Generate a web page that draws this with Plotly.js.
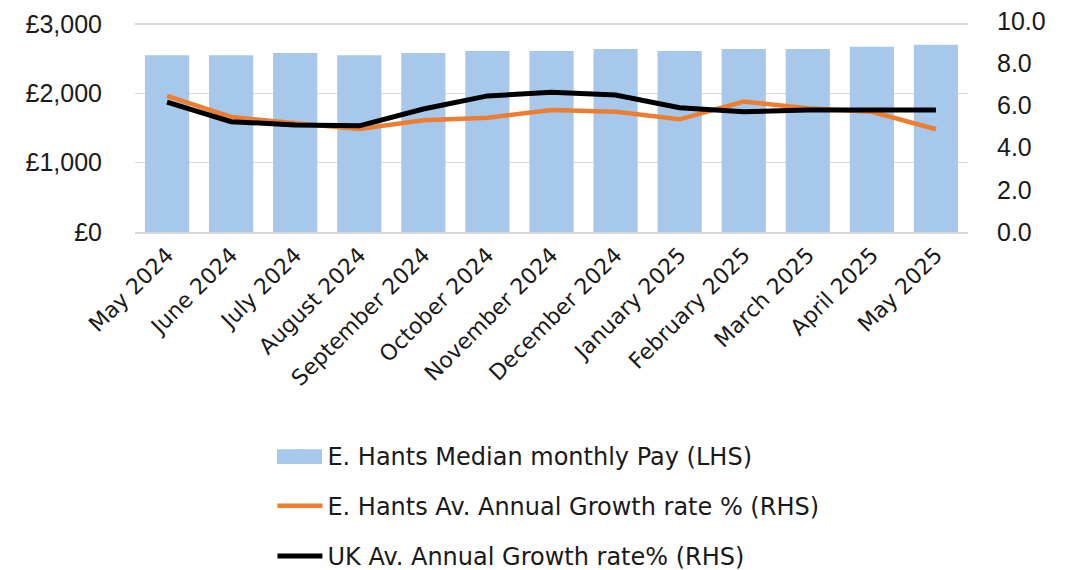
<!DOCTYPE html>
<html>
<head>
<meta charset="utf-8">
<script src="https://cdn.plot.ly/plotly-3.0.1.min.js"></script>
<style>
html,body{margin:0;padding:0;background:#fff;}
#chart{width:1073px;height:570px;}
</style>
</head>
<body>
<div id="chart"></div>
<script>
var months = ["May 2024","June 2024","July 2024","August 2024","September 2024","October 2024","November 2024","December 2024","January 2025","February 2025","March 2025","April 2025","May 2025"];
var medianPay = [2550,2550,2580,2550,2580,2610,2610,2640,2610,2640,2640,2670,2700];
var ehantsGrowth = [6.45,5.45,5.15,4.88,5.3,5.42,5.78,5.7,5.34,6.18,5.86,5.7,4.87];
var ukGrowth = [6.15,5.23,5.07,5.03,5.83,6.45,6.62,6.49,5.89,5.7,5.78,5.78,5.78];
var leftTicks = [0,1000,2000,3000];
var leftTickText = ["£0","£1,000","£2,000","£3,000"];
var rightTicks = [0,2,4,6,8,10];
var rightTickText = ["0.0","2.0","4.0","6.0","8.0","10.0"];

var barColor = "#a6c9eb";
var axisFont = {family:"Liberation Sans, Arial, sans-serif", size:25, color:"#1a1a1a"};
var xFont = {family:"DejaVu Sans, sans-serif", size:22, color:"#1a1a1a"};
var legendFont = {family:"DejaVu Sans, sans-serif", size:24, color:"#1a1a1a"};

var traces = [
  {type:"bar", x:months, y:medianPay, name:"E. Hants Median monthly Pay (LHS)",
   marker:{color:barColor}, yaxis:"y", legendgroup:"a"},
  {type:"scatter", mode:"lines", x:months, y:ehantsGrowth, name:"E. Hants Av. Annual Growth rate % (RHS)",
   line:{color:"#ed7d31", width:4.5}, yaxis:"y2", legendgroup:"b"},
  {type:"scatter", mode:"lines", x:months, y:ukGrowth, name:"UK Av. Annual Growth rate% (RHS)",
   line:{color:"#000000", width:5}, yaxis:"y2", legendgroup:"c"}
];

var layout = {
  width:1073, height:570,
  margin:{l:135, r:105, t:21, b:338, autoexpand:false},
  paper_bgcolor:"#fff", plot_bgcolor:"#fff",
  bargap:0.31,
  showlegend:true,
  legend:{x:0.165, xanchor:"left", y:-0.955, yanchor:"top", orientation:"v",
          font:legendFont, tracegroupgap:16, itemwidth:45, bgcolor:"rgba(0,0,0,0)"},
  shapes:[
    {type:"rect", xref:"paper", yref:"paper", x0:0.1705, x1:0.2245, y0:-1.1, y1:-1.03,
     fillcolor:barColor, line:{width:0}, layer:"above"}
  ],
  xaxis:{type:"category", tickangle:-45, tickfont:xFont, showgrid:false,
         showline:true, linecolor:"#d9d9d9", linewidth:1.5, ticks:"", automargin:false},
  yaxis:{range:[0,3043], tickvals:leftTicks, ticktext:leftTickText, tickfont:axisFont,
         showgrid:true, gridcolor:"#d9d9d9", gridwidth:1.5, zeroline:false, showline:false,
         ticks:"", ticklabelstandoff:32, automargin:false},
  yaxis2:{range:[0,10], overlaying:"y", side:"right", tickvals:rightTicks, ticktext:rightTickText,
          tickfont:axisFont, showgrid:false, zeroline:false, showline:false, ticks:"",
          ticklabelstandoff:28, automargin:false}
};

Plotly.newPlot("chart", traces, layout, {displayModeBar:false, staticPlot:true});
</script>
</body>
</html>
